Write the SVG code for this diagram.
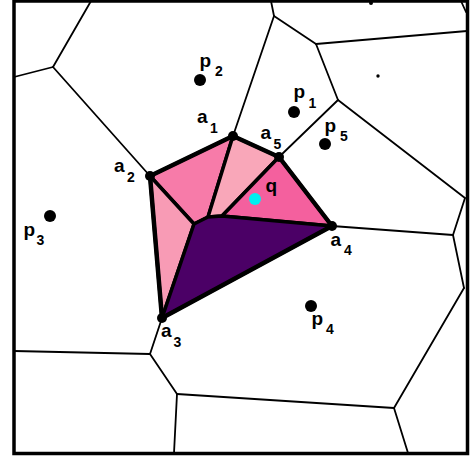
<svg xmlns="http://www.w3.org/2000/svg" width="472" height="462" viewBox="0 0 472 462">
<style>
.vor{stroke:#000;stroke-width:1.8;fill:none;stroke-linecap:round}
.cell{stroke:#000;stroke-width:3.5;stroke-linejoin:round}
.pt{fill:#000}
.lbl{font-family:"Liberation Sans",Arial,sans-serif;font-weight:bold;fill:#000}
.m{font-size:19px}
.s{font-size:14px}
</style>
<rect width="472" height="462" fill="#fff"/>
<g id="connectors">
<line class="vor" x1="91" y1="1" x2="53" y2="67"/>
<line class="vor" x1="53" y1="67" x2="14" y2="77"/>
<line class="vor" x1="53" y1="67" x2="150" y2="176"/>
<line class="vor" x1="271" y1="1" x2="274" y2="16"/>
<line class="vor" x1="274" y1="16" x2="233" y2="136"/>
<line class="vor" x1="274" y1="16" x2="316" y2="44"/>
<line class="vor" x1="316" y1="44" x2="467" y2="31"/>
<line class="vor" x1="316" y1="44" x2="338" y2="100"/>
<line class="vor" x1="338" y1="100" x2="279" y2="157"/>
<line class="vor" x1="338" y1="100" x2="465" y2="198"/>
<line class="vor" x1="465" y1="198" x2="453" y2="235"/>
<line class="vor" x1="332" y1="226" x2="453" y2="235"/>
<line class="vor" x1="453" y1="235" x2="464" y2="288"/>
<line class="vor" x1="464" y1="288" x2="394" y2="408"/>
<line class="vor" x1="394" y1="408" x2="408" y2="453"/>
<line class="vor" x1="394" y1="408" x2="177" y2="394"/>
<line class="vor" x1="177" y1="394" x2="174" y2="453"/>
<line class="vor" x1="177" y1="394" x2="150" y2="354"/>
<line class="vor" x1="150" y1="354" x2="14" y2="351"/>
<line class="vor" x1="150" y1="354" x2="162" y2="318"/>
<line class="vor" x1="461" y1="1" x2="466" y2="12"/>
</g>
<g id="frame">
<rect x="14" y="1" width="453.5" height="452.5" fill="none" stroke="#000" stroke-width="3.5"/>
</g>
<g id="cells">
<polygon id="cell-a2a1" class="cell" fill="#F77BA9" points="150,176 233,136 208,217 194,224"/>
<polygon id="cell-a1a5" class="cell" fill="#F9A7B9" points="233,136 279,157 222,216 208,217"/>
<polygon id="cell-a5a4" class="cell" fill="#F4609E" points="279,157 332,226 222,216"/>
<polygon id="cell-a2a3" class="cell" fill="#F89BB5" points="150,176 194,224 162,318"/>
<polygon id="cell-a3a4" class="cell" fill="#4B0066" points="194,224 208,217 222,216 332,226 162,318"/>
<polygon id="outline" fill="none" stroke="#000" stroke-width="4.5" stroke-linejoin="round" points="150,176 233,136 279,157 332,226 162,318"/>
</g>
<g id="a1"><circle class="pt" cx="233" cy="136" r="5"/><text class="lbl" x="197" y="123"><tspan class="m">a</tspan><tspan class="s" x="210" y="133">1</tspan></text></g>
<g id="a2"><circle class="pt" cx="150" cy="176" r="5"/><text class="lbl" x="114" y="171.5"><tspan class="m">a</tspan><tspan class="s" x="127" y="181.5">2</tspan></text></g>
<g id="a3"><circle class="pt" cx="162" cy="318" r="5"/><text class="lbl" x="161" y="337"><tspan class="m">a</tspan><tspan class="s" x="173.5" y="347">3</tspan></text></g>
<g id="a4"><circle class="pt" cx="332" cy="226" r="5"/><text class="lbl" x="330.5" y="245.5"><tspan class="m">a</tspan><tspan class="s" x="344" y="255">4</tspan></text></g>
<g id="a5"><circle class="pt" cx="279" cy="157" r="5"/><text class="lbl" x="260.5" y="139"><tspan class="m">a</tspan><tspan class="s" x="273.5" y="148.5">5</tspan></text></g>
<g id="p1"><circle class="pt" cx="294" cy="112" r="6"/><text class="lbl" x="293.5" y="98"><tspan class="m">p</tspan><tspan class="s" x="308.5" y="107.5">1</tspan></text></g>
<g id="p2"><circle class="pt" cx="200" cy="80" r="6"/><text class="lbl" x="199.5" y="67"><tspan class="m">p</tspan><tspan class="s" x="215" y="75.5">2</tspan></text></g>
<g id="p3"><circle class="pt" cx="50" cy="216" r="6"/><text class="lbl" x="23.5" y="236"><tspan class="m">p</tspan><tspan class="s" x="36.5" y="244.5">3</tspan></text></g>
<g id="p4"><circle class="pt" cx="311" cy="306" r="6"/><text class="lbl" x="311.5" y="325"><tspan class="m">p</tspan><tspan class="s" x="326" y="334">4</tspan></text></g>
<g id="p5"><circle class="pt" cx="325" cy="144" r="6"/><text class="lbl" x="324.5" y="131.5"><tspan class="m">p</tspan><tspan class="s" x="340" y="141">5</tspan></text></g>
<g id="q"><circle cx="255" cy="199" r="6" fill="#00F0F0"/><text class="lbl m" x="265.5" y="192">q</text></g>
<g id="dot1"><circle class="pt" cx="378" cy="76" r="1.7"/></g>
<g id="dot2"><circle class="pt" cx="371" cy="3" r="2"/></g>
</svg>
